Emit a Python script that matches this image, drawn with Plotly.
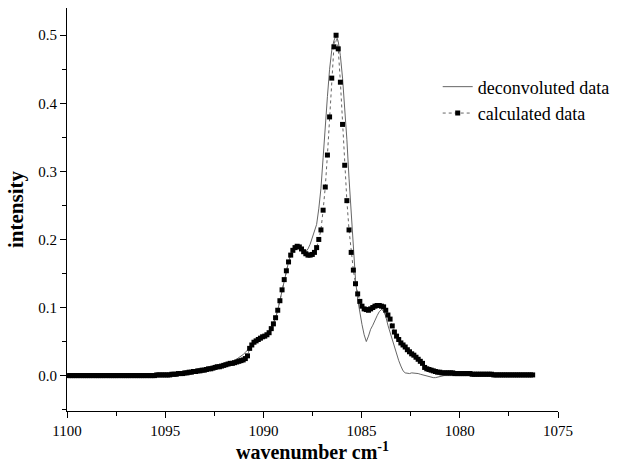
import numpy as np
import plotly.graph_objects as go

# sampling grid of the spectrum (cm-1)
WN_START = 1099.94
WN_STEP = 0.11

# calculated data (square markers)
calculated = [
    0.000, 0.000, 0.000, 0.000, 0.000, 0.000, 0.000, 0.000, 0.000, 0.000,
    0.000, 0.000, 0.000, 0.000, 0.000, 0.000, 0.000, 0.000, 0.000, 0.000,
    0.000, 0.000, 0.000, 0.000, 0.000, 0.000, 0.000, 0.000, 0.000, 0.000,
    0.000, 0.000, 0.000, 0.000, 0.000, 0.000, 0.000, 0.000, 0.000, 0.000,
    0.000, 0.001, 0.001, 0.001, 0.001, 0.001, 0.001, 0.001, 0.002, 0.002,
    0.002, 0.003, 0.003, 0.003, 0.004, 0.004, 0.005, 0.005, 0.006, 0.006,
    0.007, 0.007, 0.008, 0.008, 0.009, 0.010, 0.010, 0.011, 0.012, 0.013,
    0.013, 0.014, 0.015, 0.016, 0.017, 0.018, 0.018, 0.019, 0.020, 0.021,
    0.022, 0.023, 0.025, 0.029, 0.040, 0.045, 0.049, 0.051, 0.053, 0.055,
    0.057, 0.058, 0.060, 0.063, 0.069, 0.076, 0.085, 0.096, 0.110, 0.126,
    0.141, 0.154, 0.167, 0.177, 0.184, 0.188, 0.190, 0.189, 0.186, 0.182,
    0.179, 0.177, 0.177, 0.178, 0.181, 0.188, 0.200, 0.214, 0.243, 0.277,
    0.324, 0.380, 0.437, 0.483, 0.500, 0.480, 0.431, 0.369, 0.309, 0.257,
    0.214, 0.181, 0.155, 0.135, 0.120, 0.109, 0.102, 0.098, 0.097, 0.096,
    0.098, 0.100, 0.102, 0.103, 0.103, 0.102, 0.101, 0.096, 0.089, 0.083,
    0.073, 0.064, 0.058, 0.053, 0.048, 0.045, 0.042, 0.038, 0.035, 0.032,
    0.030, 0.027, 0.024, 0.021, 0.018, 0.012, 0.010, 0.009, 0.008, 0.007,
    0.006, 0.005, 0.005, 0.004, 0.004, 0.004, 0.004, 0.004, 0.004, 0.003,
    0.003, 0.003, 0.003, 0.003, 0.003, 0.003, 0.003, 0.002, 0.002, 0.002,
    0.002, 0.002, 0.002, 0.002, 0.002, 0.002, 0.002, 0.001, 0.001, 0.001,
    0.001, 0.001, 0.001, 0.001, 0.001, 0.001, 0.001, 0.001, 0.001, 0.001,
    0.001, 0.001, 0.001, 0.001, 0.001, 0.001,
]

# deconvoluted data (thin grey line)
deconvoluted = [
    0.000, 0.000, -0.001, -0.002, -0.002, -0.002, -0.001, 0.000, 0.000, 0.000,
    0.000, 0.000, 0.000, 0.000, 0.000, 0.000, 0.000, 0.000, 0.000, 0.000,
    0.000, 0.000, 0.000, 0.000, 0.000, 0.000, 0.000, 0.000, 0.000, 0.000,
    0.000, 0.000, 0.000, 0.000, 0.000, 0.000, 0.000, 0.000, 0.000, 0.000,
    0.000, 0.001, 0.001, 0.001, 0.001, 0.001, 0.001, 0.001, 0.002, 0.002,
    0.002, 0.003, 0.003, 0.003, 0.004, 0.004, 0.005, 0.005, 0.006, 0.006,
    0.007, 0.007, 0.008, 0.008, 0.009, 0.010, 0.010, 0.011, 0.012, 0.013,
    0.013, 0.014, 0.015, 0.016, 0.017, 0.018, 0.020, 0.022, 0.024, 0.026,
    0.028, 0.031, 0.034, 0.037, 0.041, 0.045, 0.049, 0.051, 0.053, 0.055,
    0.057, 0.058, 0.060, 0.063, 0.069, 0.076, 0.085, 0.096, 0.110, 0.126,
    0.141, 0.154, 0.167, 0.177, 0.184, 0.188, 0.190, 0.189, 0.186, 0.183,
    0.182, 0.186, 0.193, 0.202, 0.210, 0.222, 0.245, 0.275, 0.320, 0.370,
    0.410, 0.450, 0.478, 0.492, 0.500, 0.491, 0.470, 0.437, 0.395, 0.347,
    0.290, 0.238, 0.186, 0.141, 0.112, 0.092, 0.075, 0.060, 0.050, 0.058,
    0.068, 0.074, 0.082, 0.088, 0.094, 0.097, 0.095, 0.087, 0.074, 0.063,
    0.053, 0.042, 0.032, 0.022, 0.014, 0.007, 0.004, 0.003, 0.003, 0.004,
    0.004, 0.004, 0.003, 0.002, 0.001, 0.000, -0.001, -0.002, -0.003, -0.003,
    -0.003, -0.002, -0.001, 0.000, 0.000, 0.000, 0.000, 0.000, 0.000, 0.000,
    0.000, 0.000, 0.000, 0.000, 0.000, 0.000, 0.000, 0.000, 0.000, 0.000,
    0.000, 0.000, 0.000, 0.000, 0.000, 0.000, 0.000, 0.000, 0.000, 0.000,
    0.000, 0.000, 0.000, 0.000, 0.000, 0.000, 0.000, 0.000, 0.000, 0.000,
    0.000, 0.000, 0.000, 0.000, 0.000, 0.000,
]

wavenumber = np.round(WN_START - WN_STEP * np.arange(len(calculated)), 2)

x_tickvals = [1100, 1095, 1090, 1085, 1080, 1075]
y_tickvals = [0.0, 0.1, 0.2, 0.3, 0.4, 0.5]
y_ticktext = ["0.0", "0.1", "0.2", "0.3", "0.4", "0.5"]

FONT = "Liberation Serif"

fig = go.Figure()
fig.add_trace(go.Scatter(
    x=wavenumber, y=deconvoluted, mode="lines", name="deconvoluted data",
    line=dict(color="#555555", width=0.9),
))
fig.add_trace(go.Scatter(
    x=wavenumber, y=calculated, mode="lines+markers", name="calculated data",
    line=dict(color="#666666", width=1, dash="dot"),
    marker=dict(symbol="square", size=5, color="black", line=dict(width=0)),
))

fig.update_layout(
    width=635, height=463,
    margin=dict(l=67, r=77, t=8, b=52),
    paper_bgcolor="white", plot_bgcolor="white",
    font=dict(family=FONT, color="black", size=14),
    showlegend=True,
    legend=dict(
        x=0.755, y=0.85, xanchor="left", yanchor="top",
        bgcolor="rgba(0,0,0,0)", borderwidth=0,
        font=dict(family=FONT, size=18, color="black"),
        tracegroupgap=0,
    ),
)
fig.update_xaxes(
    range=[1100, 1075], autorange=False,
    tickmode="array", tickvals=x_tickvals,
    ticks="outside", ticklen=6, tickwidth=1, tickcolor="black",
    minor=dict(dtick=2.5, tick0=1100, ticks="outside", ticklen=4, tickcolor="black", showgrid=False),
    showline=True, linecolor="black", linewidth=1, mirror=False,
    showgrid=False, zeroline=False, automargin=False,
    tickfont=dict(family=FONT, size=15, color="black"),
    title=dict(text="<b>wavenumber cm<sup>-1</sup></b>", font=dict(family=FONT, size=20, color="black"), standoff=2),
)
fig.update_yaxes(
    range=[-0.052, 0.540], autorange=False,
    tickmode="array", tickvals=y_tickvals, ticktext=y_ticktext,
    ticks="outside", ticklen=6, tickwidth=1, tickcolor="black",
    minor=dict(dtick=0.05, tick0=0, ticks="outside", ticklen=4, tickcolor="black", showgrid=False),
    showline=True, linecolor="black", linewidth=1, mirror=False,
    showgrid=False, zeroline=False, automargin=False,
    tickfont=dict(family=FONT, size=15, color="black"),
    title=dict(text="<b>intensity</b>", font=dict(family=FONT, size=21, color="black"), standoff=8),
)

fig.write_html("out.html")
